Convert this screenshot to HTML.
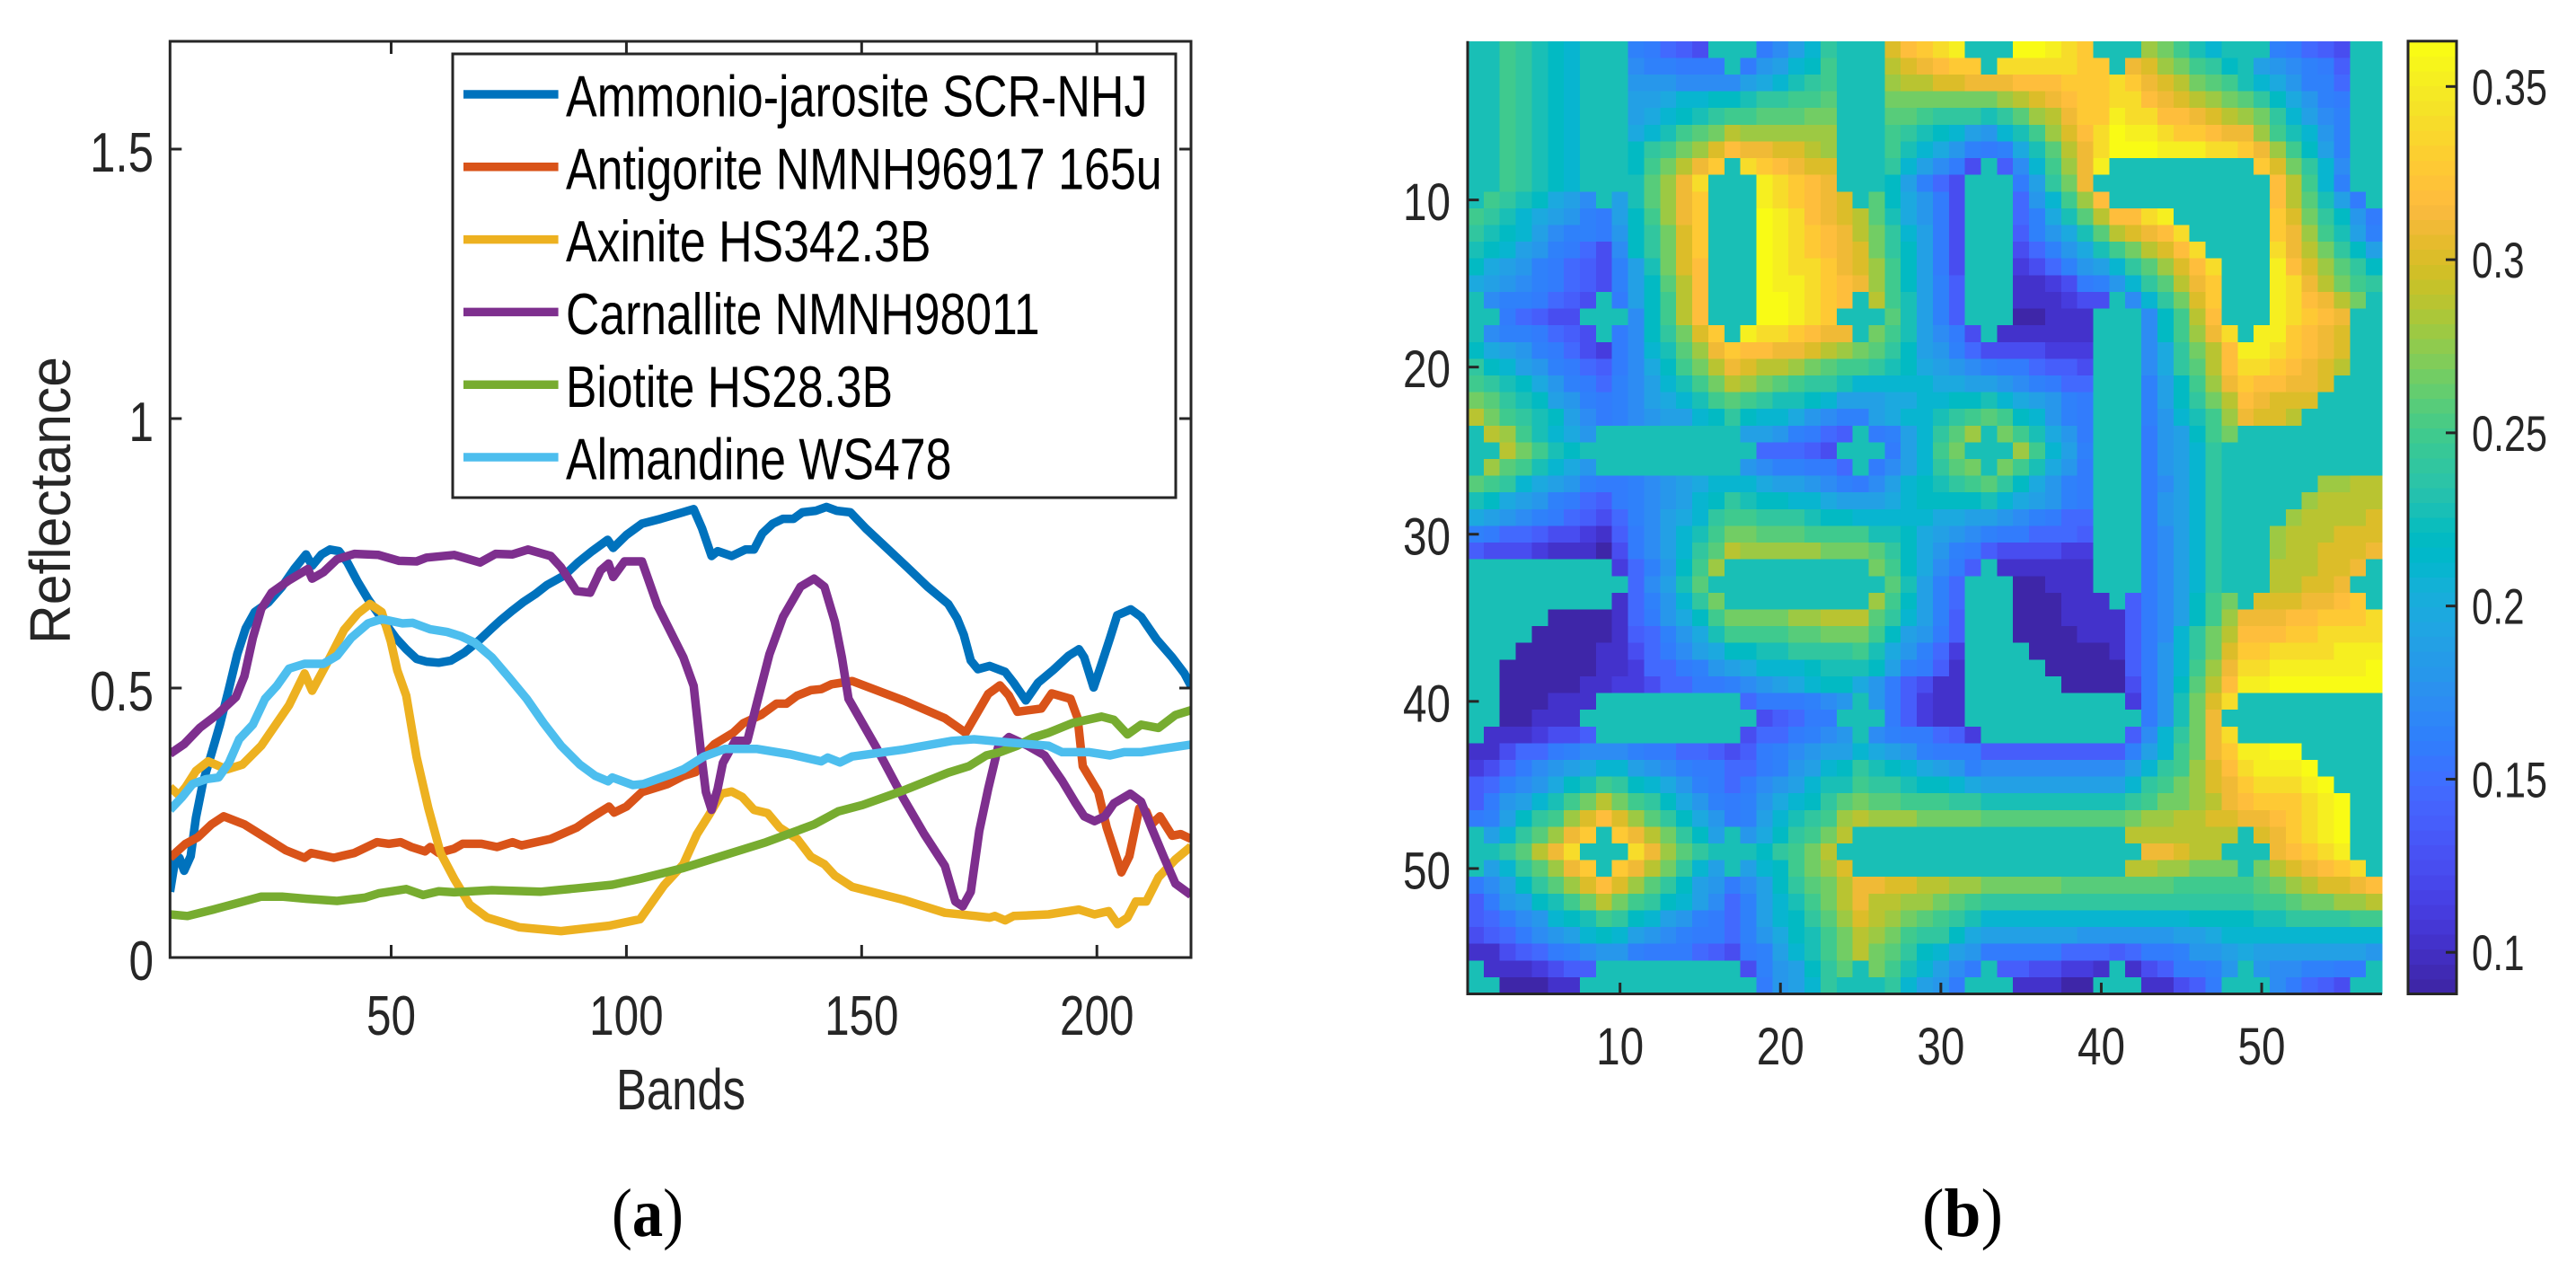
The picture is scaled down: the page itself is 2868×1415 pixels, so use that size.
<!DOCTYPE html>
<html lang="en">
<head>
<meta charset="utf-8">
<title>Reflectance spectra and abundance map</title>
<style>
html,body{margin:0;padding:0;background:#fff;width:2868px;height:1415px;overflow:hidden}
svg{display:block;font-family:"Liberation Sans",sans-serif}
</style>
</head>
<body>
<svg id="figure" xmlns="http://www.w3.org/2000/svg" width="2868" height="1415" viewBox="0 0 2868 1415">
<rect width="2868" height="1415" fill="#fff"/>
<defs><clipPath id="plotClip"><rect x="189.3" y="46" width="1136.7" height="1020"/></clipPath></defs>
<g id="panelA"></g>
<g id="panelB"></g>
<text x="681" y="1376" font-family="'Liberation Serif',serif" font-size="76" fill="#000" textLength="80" lengthAdjust="spacingAndGlyphs">(<tspan font-weight="bold">a</tspan>)</text>
<text x="2140" y="1376" font-family="'Liberation Serif',serif" font-size="76" fill="#000" textLength="90" lengthAdjust="spacingAndGlyphs">(<tspan font-weight="bold">b</tspan>)</text>
</svg>
<script>
const bandTicks = [50, 100, 150, 200];
const reflectanceTicks = [0, 0.5, 1, 1.5];
const reflectanceTickLabels = ["0", "0.5", "1", "1.5"];
const heatmapTicks = [10, 20, 30, 40, 50];
const colorbarTicks = [0.1, 0.15, 0.2, 0.25, 0.3, 0.35];
const colorbarTickLabels = ["0.1", "0.15", "0.2", "0.25", "0.3", "0.35"];
const seriesNames = ["Ammonio-jarosite SCR-NHJ", "Antigorite NMNH96917 165u", "Axinite HS342.3B", "Carnallite NMNH98011", "Biotite HS28.3B", "Almandine WS478"];

const ammonioBands = [3,4.1,5,6,7.4,8.5,10,11.8,13.6,15.5,17.3,19.1,21,23.9,26.8,29.4,31.9,33.2,35.2,37,38.9,40.7,42.9,45.1,48,51,53.2,55.4,57.5,60.1,62.7,65.6,68.5,71.4,73.3,75.8,78,80.6,83.1,86.8,89.7,92.7,96,97.2,100,103.3,107.3,114.3,116.1,118.1,119.4,122.4,125.3,127.1,128.9,131.1,133.3,135.5,137.4,140.3,142.5,144.7,147.6,150.9,155.3,159.7,164,168.4,170.3,171.7,173.2,174.7,177.2,180.5,182.3,184.9,187.5,190.8,194,196.2,197.3,199.3,201,202.8,204.3,207.2,209.4,212.7,216,218.6,220];
const ammonioValues = [0.122,0.182,0.185,0.161,0.188,0.259,0.325,0.378,0.432,0.498,0.563,0.611,0.641,0.659,0.688,0.721,0.748,0.727,0.748,0.757,0.754,0.733,0.697,0.665,0.629,0.593,0.572,0.554,0.549,0.547,0.551,0.566,0.587,0.611,0.626,0.644,0.659,0.674,0.691,0.709,0.733,0.754,0.775,0.760,0.784,0.805,0.814,0.832,0.796,0.745,0.754,0.745,0.757,0.757,0.787,0.805,0.814,0.814,0.826,0.829,0.836,0.829,0.826,0.796,0.760,0.724,0.688,0.656,0.629,0.599,0.551,0.535,0.541,0.530,0.510,0.477,0.510,0.534,0.560,0.572,0.557,0.501,0.545,0.593,0.635,0.646,0.632,0.590,0.557,0.527,0.504];

const antigoriteBands = [3,6.3,8.9,11.8,14.4,18.8,23.2,27.6,31.6,33,37.8,42.2,47,49.5,52,54.3,57.2,58.3,60.1,63.4,65.2,69.2,72.5,75.8,77.7,83.9,89.4,91.9,94.1,96.3,97.4,100,103.3,108.8,112.1,114.7,115.8,118.7,122.7,124.9,128.6,131.9,134,136.3,139.2,141.4,143.6,145.8,148,158.9,167.7,172.1,174.3,176.9,179.4,181.3,183.1,188.2,190.4,194.4,195.9,197,200.3,202.1,205.2,206.9,209,210.5,211.6,213.4,216,217.8,220];
const antigoriteValues = [0.185,0.211,0.223,0.247,0.262,0.247,0.223,0.199,0.185,0.194,0.185,0.194,0.214,0.211,0.214,0.205,0.197,0.205,0.194,0.202,0.211,0.211,0.205,0.214,0.208,0.220,0.241,0.256,0.268,0.280,0.269,0.280,0.307,0.322,0.337,0.344,0.370,0.396,0.417,0.435,0.450,0.471,0.471,0.486,0.496,0.498,0.507,0.510,0.513,0.477,0.444,0.417,0.450,0.489,0.505,0.486,0.456,0.462,0.490,0.480,0.444,0.355,0.307,0.241,0.158,0.188,0.277,0.271,0.247,0.262,0.226,0.229,0.220];

const axiniteBands = [3,4.9,6.3,8.5,11.1,15.1,18.4,22.4,28.3,31.6,33.2,36.3,40,42.9,45.5,48,49.9,51.3,53.2,55.4,57.9,60.5,63.4,66.7,70.4,77.3,86.1,96.3,102.9,108,112.1,115,117.6,120.2,122.4,124.6,127.1,130,132.6,136.3,139.2,142.1,144.3,148,158.9,167.7,174.3,177.2,178.3,180.5,182.3,189.7,196.2,199.5,202.5,204.4,206.5,208.3,210.5,213.1,216.7,220];
const axiniteValues = [0.316,0.301,0.316,0.346,0.364,0.349,0.358,0.393,0.468,0.527,0.495,0.545,0.608,0.638,0.656,0.641,0.587,0.533,0.486,0.372,0.277,0.194,0.146,0.098,0.074,0.056,0.049,0.059,0.071,0.134,0.173,0.229,0.265,0.304,0.308,0.298,0.274,0.268,0.241,0.220,0.187,0.173,0.152,0.131,0.107,0.083,0.077,0.074,0.077,0.069,0.077,0.080,0.089,0.080,0.086,0.062,0.074,0.104,0.104,0.149,0.182,0.206];

const carnalliteBands = [3,6,9.3,12.9,17,18.8,20.6,22.4,24.6,28.3,32.3,33.2,35.6,38.5,42.2,47.3,51.7,55.4,57.5,63.4,68.9,72.2,75.8,79.1,83.9,86.1,89.4,92.3,94.5,96.2,97.2,99.6,103.3,106.6,112.1,114.3,115.8,116.9,118.1,119.4,120.5,123.1,125.7,127.8,130.4,133.3,137,139.9,142.1,144.3,145.8,147.2,153.1,158.9,163.3,167.7,169.9,171.5,173.2,175,176.9,179,181.3,185.3,188.9,192.6,195.5,197.3,199.5,201.7,203.6,207.1,209.4,211.6,214.2,216.7,220];
const carnalliteValues = [0.378,0.396,0.426,0.450,0.483,0.522,0.593,0.647,0.677,0.700,0.721,0.703,0.715,0.739,0.749,0.747,0.736,0.735,0.742,0.747,0.733,0.749,0.748,0.757,0.745,0.724,0.680,0.677,0.718,0.731,0.706,0.735,0.735,0.653,0.557,0.504,0.384,0.307,0.274,0.313,0.361,0.402,0.402,0.474,0.563,0.632,0.688,0.703,0.688,0.623,0.557,0.480,0.390,0.295,0.229,0.170,0.104,0.095,0.122,0.235,0.313,0.390,0.409,0.393,0.375,0.328,0.286,0.262,0.253,0.262,0.286,0.304,0.289,0.241,0.187,0.137,0.116];

const biotiteBands = [3,6.7,12.2,17.3,22.4,26.8,32,38.5,44.4,47.3,53.2,56.8,60.1,63.4,71.4,81.7,89,97,102.9,112.1,123.1,129.7,139.9,145,150.2,158.9,168.4,172.8,176.5,179.4,183.1,186.4,189.7,194.8,201,203.6,206.5,209.4,213.1,216.7,220];
const biotiteValues = [0.080,0.077,0.089,0.101,0.113,0.113,0.109,0.105,0.111,0.119,0.127,0.116,0.123,0.121,0.125,0.122,0.128,0.135,0.146,0.166,0.196,0.214,0.247,0.271,0.283,0.310,0.343,0.355,0.375,0.381,0.393,0.408,0.417,0.435,0.447,0.441,0.414,0.432,0.426,0.450,0.459];

const almandineBands = [3,5.6,7.8,10.7,13.3,15.5,17.7,20.6,23.2,25.7,28.3,31.6,35.6,38.5,41.5,45.1,48,52.4,54.6,58.3,61.9,64.9,67.8,71.4,75.1,78.8,82.4,86.1,90.1,93.4,96.1,97,101.4,103.6,109.5,112.1,116.5,120.9,127.8,134.8,141.4,142.8,145.4,148,158.9,169.2,173.9,181.3,189.7,192.6,198.4,202.8,205.8,209.4,213.8,220];
const almandineValues = [0.274,0.298,0.322,0.331,0.334,0.361,0.405,0.432,0.480,0.504,0.536,0.545,0.545,0.560,0.593,0.620,0.628,0.620,0.621,0.609,0.604,0.596,0.584,0.557,0.519,0.480,0.435,0.393,0.358,0.337,0.327,0.334,0.320,0.322,0.340,0.349,0.373,0.387,0.387,0.377,0.364,0.371,0.362,0.373,0.386,0.402,0.405,0.399,0.393,0.381,0.381,0.375,0.381,0.381,0.387,0.395];

/* abundance map, one row per line, values in hundredths */
const abundanceRows = [
[23,23,25,24,23,22,21,23,23,23,16,15,14,13,12,23,23,23,15,17,19,21,24,23,23,23,30,32,33,34,35,23,23,23,36,36,35,34,33,23,23,23,28,27,25,23,21,23,23,23,16,15,14,13,12,23,23],
[23,23,25,24,23,22,21,23,23,23,17,16,16,15,15,15,23,15,18,19,21,22,25,23,23,23,29,30,31,32,33,33,23,34,34,34,34,34,33,33,23,31,30,28,27,25,24,22,23,19,18,17,16,15,13,23,23],
[23,23,25,24,23,22,21,23,23,23,18,18,18,17,17,17,17,19,20,21,23,24,25,23,23,23,28,29,29,30,30,31,31,31,32,32,32,33,33,33,34,33,31,30,29,27,26,25,23,21,20,18,16,16,14,23,23],
[23,23,25,24,23,22,21,23,23,23,19,19,20,21,21,22,22,23,24,24,25,25,26,23,23,23,27,27,27,27,27,27,27,28,29,30,31,32,33,33,34,34,32,31,30,29,28,27,26,24,22,20,18,16,15,23,23],
[23,23,25,24,23,22,21,23,23,23,19,20,21,22,23,24,25,25,26,26,26,27,27,23,23,23,26,26,25,24,24,24,23,24,26,28,29,31,33,33,35,34,34,32,32,31,30,29,28,27,24,21,19,17,16,23,23],
[23,23,25,24,23,22,21,23,23,23,20,21,23,25,26,27,29,28,28,28,28,28,28,23,23,23,25,24,23,22,21,19,18,21,23,25,28,30,32,34,36,35,35,34,33,33,32,31,31,28,25,23,21,18,16,23,23],
[23,23,25,24,23,22,21,23,23,23,22,24,25,27,28,30,32,31,31,30,30,29,28,23,23,23,25,23,21,20,18,16,15,16,20,23,26,29,31,34,36,36,36,35,35,35,34,34,33,31,28,25,22,19,16,23,23],
[23,23,25,24,23,22,21,23,23,23,22,25,27,29,31,33,23,34,33,32,31,30,30,23,23,23,24,21,19,17,15,12,23,13,17,21,25,28,31,35,23,23,23,23,23,23,23,23,23,33,30,27,24,21,17,23,23],
[23,23,25,24,23,22,21,23,23,23,23,26,28,31,34,23,23,23,35,34,33,32,31,23,23,23,22,19,16,14,12,23,23,23,15,19,24,27,31,23,23,23,23,23,23,23,23,23,23,23,32,29,25,21,16,23,23],
[23,25,24,23,22,20,19,17,23,19,23,26,28,31,33,23,23,23,35,34,33,32,31,30,23,26,22,20,18,15,12,23,23,23,14,18,21,25,28,32,23,23,23,23,23,23,23,23,23,23,32,29,26,23,19,15,23],
[25,24,23,21,20,19,18,16,15,19,22,25,28,31,33,23,23,23,36,35,34,32,31,30,29,26,23,20,18,15,12,23,23,23,14,16,20,23,26,29,32,32,34,35,23,23,23,23,23,23,33,30,27,24,22,18,15],
[24,23,22,21,19,17,16,16,15,18,22,24,27,30,33,23,23,23,36,35,34,33,32,31,29,27,24,21,19,15,12,23,23,23,13,16,18,20,23,26,29,30,31,32,34,23,23,23,23,23,33,31,28,25,23,19,16],
[23,22,21,19,18,16,15,14,12,17,22,24,27,30,33,23,23,23,36,35,34,33,32,31,30,27,24,22,19,15,12,23,23,23,12,14,16,18,20,23,25,27,29,30,32,34,23,23,23,23,34,31,29,27,24,22,19],
[22,20,19,18,16,15,14,13,12,16,19,23,27,30,32,23,23,23,36,35,34,34,33,31,30,28,25,22,19,15,12,23,23,23,11,12,14,16,18,19,21,24,26,28,30,32,34,23,23,23,35,32,30,28,26,24,22],
[20,19,18,17,16,15,14,13,12,16,19,22,26,29,32,23,23,23,36,35,35,34,33,32,31,28,25,22,19,16,13,23,23,23,10,10,11,12,15,16,18,21,24,26,29,31,33,23,23,23,35,34,31,29,27,25,24],
[23,17,16,16,15,14,13,12,23,15,19,22,25,29,32,23,23,23,36,36,35,34,33,32,23,29,25,23,19,16,13,23,23,23,10,10,10,11,12,12,23,17,21,24,27,30,33,23,23,23,35,34,32,31,29,27,23],
[23,23,15,14,13,12,12,23,23,23,17,22,25,29,32,23,23,23,36,36,35,34,33,23,23,23,26,23,19,16,13,23,23,23,9,9,10,10,10,23,23,23,17,22,25,29,32,23,23,23,35,34,33,32,31,23,23],
[23,17,16,16,15,14,13,12,23,15,17,22,24,27,30,33,23,35,34,34,33,32,31,31,23,27,25,23,19,17,15,12,23,10,10,10,10,10,10,23,23,23,17,22,25,28,31,34,23,35,35,33,32,31,30,23,23],
[22,20,19,18,16,15,14,12,11,15,17,21,23,26,28,31,33,32,32,31,31,30,29,28,27,26,24,22,19,18,16,14,12,12,12,12,11,11,11,23,23,23,17,20,24,27,29,32,35,35,34,33,32,31,30,23,23],
[24,22,21,19,18,16,15,14,13,15,17,20,22,25,27,29,31,30,29,29,28,27,26,25,25,24,23,22,20,19,18,17,16,15,15,14,13,13,12,23,23,23,17,20,24,26,29,32,34,34,33,32,31,30,29,23,23],
[25,24,23,22,20,18,16,15,14,16,17,19,21,23,25,27,29,28,27,26,25,24,24,23,21,21,21,21,21,20,20,19,19,18,17,16,15,14,14,23,23,23,16,19,22,25,28,31,33,32,32,31,31,30,23,23,23],
[27,26,24,23,22,19,18,16,15,16,17,19,20,21,23,25,26,25,24,23,23,22,21,19,19,19,20,20,21,21,22,22,23,21,20,19,18,16,15,23,23,23,16,19,22,24,27,29,32,31,30,30,30,23,23,23,23],
[29,27,25,24,23,22,19,17,15,16,17,18,19,19,21,22,24,22,21,21,20,18,17,16,16,19,20,21,21,23,24,25,26,25,22,21,18,16,15,23,23,23,16,18,21,23,25,28,31,30,30,29,23,23,23,23,23],
[23,29,28,25,23,21,20,18,23,23,23,23,23,23,23,23,23,19,19,18,16,15,14,13,23,15,16,19,21,24,26,28,23,27,25,23,20,18,15,23,23,23,15,18,19,22,25,27,23,23,23,23,23,23,23,23,23],
[23,23,29,27,25,23,22,23,23,23,23,23,23,23,23,23,23,23,14,14,14,13,12,23,23,23,15,19,21,25,27,23,23,23,28,25,21,19,16,23,23,23,15,18,19,21,24,23,23,23,23,23,23,23,23,23,23],
[23,28,26,25,23,21,20,18,23,23,23,23,23,23,23,23,23,18,17,16,16,15,15,14,23,15,17,19,21,24,26,27,23,27,25,23,20,18,15,23,23,23,15,18,19,21,24,23,23,23,23,23,23,23,23,23,23],
[26,25,24,21,20,19,18,16,15,15,16,17,18,19,20,21,21,21,20,19,19,18,17,16,15,17,19,21,22,23,24,25,26,24,22,20,18,16,15,23,23,23,15,17,19,21,24,23,23,23,23,23,23,28,28,29,29],
[23,22,20,19,18,16,15,14,13,15,16,17,18,19,21,22,24,23,22,22,21,21,20,19,19,19,20,21,22,22,22,22,23,21,20,19,18,16,15,23,23,23,15,18,19,21,24,23,23,23,23,23,28,29,29,29,29],
[20,19,18,17,16,15,14,13,12,14,16,17,19,20,21,24,25,25,24,24,24,23,22,22,21,21,21,21,21,20,20,19,19,18,17,16,15,14,14,23,23,23,15,18,19,21,24,23,23,23,23,28,29,29,29,29,30],
[16,15,14,14,13,12,12,11,10,13,15,17,19,21,23,25,27,27,26,26,26,25,25,25,25,23,23,22,20,19,18,17,16,15,15,14,14,14,13,23,23,23,15,17,19,21,24,23,23,23,28,29,29,29,30,30,30],
[13,12,12,12,11,10,10,10,9,12,15,17,19,21,24,26,29,28,28,28,28,28,27,27,27,26,24,22,20,18,16,15,13,12,12,12,12,11,11,23,23,23,15,17,19,21,24,23,23,23,28,29,29,30,30,30,31],
[23,23,23,23,23,23,23,23,23,11,14,16,18,22,25,28,23,23,23,23,23,23,23,23,23,27,25,22,20,17,15,13,23,10,10,10,10,10,10,23,23,23,15,17,19,21,24,23,23,23,29,29,29,30,30,31,23],
[23,23,23,23,23,23,23,23,23,23,14,17,19,23,26,23,23,23,23,23,23,23,23,23,23,23,26,23,19,16,14,23,23,23,9,9,10,10,10,23,23,23,15,17,19,21,24,23,23,23,29,29,30,30,31,23,23],
[23,23,23,23,23,23,23,23,23,10,14,16,18,21,24,27,23,23,23,23,23,23,23,23,23,28,25,22,19,16,14,23,23,23,9,9,9,10,10,10,23,13,15,17,19,22,25,27,23,30,30,30,31,31,32,33,23],
[23,23,23,23,23,9,9,9,9,10,14,15,18,20,22,25,27,27,27,27,28,28,29,29,29,26,24,21,19,16,13,23,23,23,9,9,9,10,10,10,10,13,15,17,19,22,25,28,31,31,31,32,32,33,33,33,34],
[23,23,23,23,9,9,9,9,9,10,13,14,16,18,20,23,25,25,25,25,26,26,27,27,27,25,22,19,18,15,13,23,23,23,9,9,9,9,10,10,10,13,15,17,21,24,27,29,32,32,32,33,33,34,34,34,34],
[23,23,23,9,9,9,9,9,10,10,12,14,15,17,19,20,22,22,23,23,24,24,24,24,25,23,20,18,16,14,11,23,23,23,23,9,9,9,9,9,10,13,15,18,21,24,27,30,33,33,34,34,34,34,35,35,35],
[23,23,9,9,9,9,9,9,10,10,11,14,14,15,16,18,19,20,21,21,21,22,23,23,23,22,19,16,15,13,10,23,23,23,23,23,9,9,9,9,9,13,15,18,21,25,28,31,34,34,35,35,35,35,35,35,36],
[23,23,9,9,9,9,9,10,10,11,11,12,14,14,15,15,16,17,18,19,20,21,22,22,20,18,15,13,12,10,10,23,23,23,23,23,23,9,9,9,9,12,15,18,22,26,29,32,35,35,36,36,36,36,36,36,36],
[23,23,9,9,9,10,10,10,23,23,23,23,23,23,23,23,23,14,15,15,15,16,17,18,23,18,15,13,11,10,10,23,23,23,23,23,23,23,23,23,23,11,15,18,23,27,30,34,23,23,23,23,23,23,23,23,23],
[23,23,9,9,10,10,10,23,23,23,23,23,23,23,23,23,23,23,12,13,14,15,15,23,23,23,15,13,11,10,10,23,23,23,23,23,23,23,23,23,23,23,15,18,23,27,31,23,23,23,23,23,23,23,23,23,23],
[23,10,10,10,11,12,12,13,23,23,23,23,23,23,23,23,23,12,14,14,15,16,17,18,23,17,16,15,15,14,13,11,23,23,23,23,23,23,23,23,23,13,17,21,24,27,31,34,23,23,23,23,23,23,23,23,23],
[10,10,12,14,14,15,16,17,17,17,16,15,15,14,14,13,12,13,15,16,17,18,19,19,21,20,19,18,16,15,15,15,13,13,13,13,13,13,13,13,13,16,19,21,25,27,31,33,35,35,36,36,23,23,23,23,23],
[11,12,14,15,17,18,19,20,21,21,19,18,17,16,15,15,14,14,15,16,18,19,21,22,24,23,22,21,20,19,18,16,17,17,17,17,17,17,17,17,17,19,21,24,25,28,30,32,34,35,35,35,36,23,23,23,23],
[13,14,16,17,18,20,22,23,25,24,22,21,20,18,16,15,14,15,17,18,19,21,23,23,25,24,24,23,22,22,21,20,19,19,19,19,19,19,19,19,19,21,24,25,27,28,30,31,33,34,34,34,35,36,23,23,23],
[13,15,18,19,21,23,25,27,29,27,25,24,22,20,18,16,15,16,18,20,21,22,24,26,27,26,26,25,25,25,24,24,23,23,23,23,23,23,23,23,23,24,25,27,27,28,29,31,32,33,33,33,34,35,36,23,23],
[15,16,19,22,24,25,28,30,32,30,28,26,24,22,20,18,15,16,19,21,23,24,25,28,29,28,28,28,27,27,27,27,26,26,26,26,26,26,26,26,26,27,28,28,29,29,30,30,31,31,32,33,34,35,36,23,23],
[23,19,21,24,26,28,31,33,23,33,31,29,27,24,22,19,23,18,20,22,24,25,27,29,23,23,23,23,23,23,23,23,23,23,23,23,23,23,23,23,23,29,29,29,29,29,29,29,23,30,31,33,34,35,36,23,23],
[23,23,24,26,29,31,34,23,23,23,34,31,28,26,24,23,23,23,22,24,25,27,29,23,23,23,23,23,23,23,23,23,23,23,23,23,23,23,23,23,23,23,31,31,30,29,29,23,23,23,31,32,33,34,35,23,23],
[23,19,21,24,26,28,31,33,23,33,31,29,27,24,21,19,23,19,21,22,25,27,28,30,23,23,23,23,23,23,23,23,23,23,23,23,23,23,23,23,23,29,29,28,28,27,27,27,23,27,29,30,31,32,33,34,23],
[15,17,19,22,24,26,28,30,32,30,28,26,24,22,19,18,15,17,19,22,24,26,27,29,31,31,30,30,29,29,28,28,27,27,27,27,27,26,26,26,26,26,26,26,25,25,25,25,25,26,27,28,29,30,30,31,32],
[13,15,18,19,22,23,25,27,29,27,25,24,22,21,19,17,14,16,19,21,23,25,27,29,31,29,29,28,28,27,26,25,24,24,24,24,24,24,24,24,24,24,24,24,24,24,24,24,24,25,25,26,27,27,28,28,29],
[13,14,15,17,18,21,22,23,25,24,22,21,19,18,16,15,14,16,19,21,22,24,26,28,30,29,28,27,26,25,24,23,21,21,21,21,21,21,21,21,21,21,21,21,21,22,22,22,22,23,23,24,24,24,24,25,25],
[12,13,14,15,17,18,19,21,22,21,19,18,17,16,15,15,14,16,18,20,22,23,25,27,29,28,27,25,24,24,22,20,19,19,19,19,19,19,18,18,18,18,18,18,19,19,20,21,21,21,21,21,21,21,21,21,21],
[10,10,12,13,14,15,16,17,18,18,16,15,15,15,14,13,12,15,16,19,21,23,25,27,29,27,26,24,22,21,19,18,15,15,15,15,15,14,14,14,13,14,15,15,16,18,18,19,20,19,19,19,19,19,19,19,18],
[23,10,10,10,11,12,13,13,23,23,23,23,23,23,23,23,23,12,16,18,19,22,24,26,23,27,25,23,21,19,17,15,23,13,13,12,12,11,11,10,23,10,12,13,15,15,16,18,23,18,17,17,16,16,15,15,23],
[23,23,9,9,9,10,10,23,23,23,23,23,23,23,23,23,23,23,15,18,19,21,24,23,23,23,24,21,19,18,15,23,23,23,10,10,10,9,9,23,23,23,10,10,12,13,15,23,23,23,17,15,14,13,12,23,23]
];

/* parula colormap levels */
const parula = [[.2422,.1504,.6603],[.2504,.165,.7076],[.2578,.1818,.7511],[.2647,.1978,.7952],[.2706,.2147,.8364],[.2751,.2342,.871],[.2783,.2559,.8991],[.2803,.2782,.9221],[.2813,.3006,.9414],[.281,.3228,.9579],[.2795,.3447,.9717],[.276,.3667,.9829],[.2699,.3892,.9906],[.2602,.4123,.9952],[.244,.4358,.9988],[.2206,.4603,.9973],[.1963,.4847,.9892],[.1834,.5074,.9798],[.1786,.5289,.9682],[.1764,.5499,.952],[.1687,.5703,.9359],[.154,.5902,.9218],[.146,.6091,.9079],[.138,.6276,.8973],[.1248,.6459,.8883],[.1113,.6635,.8763],[.0952,.6798,.8598],[.0689,.6948,.8394],[.0297,.7082,.8163],[.0036,.7203,.7917],[.0067,.7312,.766],[.0433,.7411,.7394],[.0964,.75,.712],[.1408,.7584,.6842],[.1717,.767,.6554],[.1938,.7758,.6251],[.2161,.7843,.5923],[.247,.7918,.5567],[.2906,.7973,.5188],[.3406,.8008,.4789],[.3909,.8029,.4354],[.4456,.8024,.3909],[.5044,.7993,.348],[.5616,.7942,.3045],[.6174,.7876,.2612],[.672,.7793,.2227],[.7242,.7698,.191],[.7738,.7598,.1646],[.8203,.7498,.1535],[.8634,.7406,.1596],[.9035,.733,.1774],[.9393,.7288,.21],[.9728,.7298,.2394],[.9956,.7434,.2371],[.997,.7659,.2199],[.9952,.7893,.2028],[.9892,.8136,.1885],[.9786,.8386,.1766],[.9676,.8639,.1643],[.961,.889,.1537],[.9597,.9135,.1423],[.9628,.9373,.1265],[.9691,.9606,.1064],[.9769,.9839,.0805]];
/* parula level reached by each abundance value from 9 to 36 */
const colorLevels = [0,3,5,8,11,13,16,17,19,21,23,25,28,30,32,35,37,39,41,44,46,49,51,53,55,58,61,63];

const NS = "http://www.w3.org/2000/svg";
const INK = "#262626";
const panelA = document.getElementById("panelA");
const panelB = document.getElementById("panelB");

function make(parent, tag, attrs) {
  const el = document.createElementNS(NS, tag);
  for (const k in attrs) el.setAttribute(k, attrs[k]);
  parent.appendChild(el);
  return el;
}
function widthOf(str, digit, dot) {
  let w = 0;
  for (const c of str) w += (c === "." ? dot : digit);
  return w;
}

/* ---------- panel (a) scales ---------- */
const aLeft = 189.3, aRight = 1326, aTop = 46, aBottom = 1066;
const xBandMin = 3, xBandMax = 220, yRefMin = 0, yRefMax = 1.7;
function xBand(b) { return aLeft + (b - xBandMin) / (xBandMax - xBandMin) * (aRight - aLeft); }
function yRef(v) { return aBottom - (v - yRefMin) / (yRefMax - yRefMin) * (aBottom - aTop); }

const seriesColors = ["#0072bd", "#d95319", "#edb120", "#7e2f8e", "#77ac30", "#4dbeee"];
const seriesData = [
  [ammonioBands, ammonioValues],
  [antigoriteBands, antigoriteValues],
  [axiniteBands, axiniteValues],
  [carnalliteBands, carnalliteValues],
  [biotiteBands, biotiteValues],
  [almandineBands, almandineValues]
];

const lineGroup = make(panelA, "g", { "clip-path": "url(#plotClip)" });


seriesData.forEach(function (s, i) {
  const pts = s[0].map(function (b, j) { return xBand(b).toFixed(1) + "," + yRef(s[1][j]).toFixed(1); }).join(" ");
  const line = make(lineGroup, "polyline", { points: pts, fill: "none", stroke: seriesColors[i], "stroke-width": 9.5, "stroke-linejoin": "round" });
  
  
});

/* panel (a) frame */
const aFrame = make(panelA, "rect", { x: aLeft, y: aTop, width: aRight - aLeft, height: aBottom - aTop, fill: "none", stroke: INK, "stroke-width": 3 });



bandTicks.forEach(function (t) {
  const x = xBand(t);
  const tb = make(panelA, "line", { x1: x, x2: x, y1: aBottom, y2: aBottom - 14, stroke: INK, "stroke-width": 3 });
  
  
  const tt = make(panelA, "line", { x1: x, x2: x, y1: aTop, y2: aTop + 14, stroke: INK, "stroke-width": 3 });
  
  
  const s = String(t);
  const lab = make(panelA, "text", { x: x, y: 1152, "text-anchor": "middle", "font-size": 62, fill: INK, textLength: widthOf(s, 27.5, 16), lengthAdjust: "spacingAndGlyphs" });
  lab.textContent = s;
  
  
});
reflectanceTicks.forEach(function (t, i) {
  const y = yRef(t);
  const tl = make(panelA, "line", { x1: aLeft, x2: aLeft + 13, y1: y, y2: y, stroke: INK, "stroke-width": 3 });
  
  
  const tr = make(panelA, "line", { x1: aRight, x2: aRight - 13, y1: y, y2: y, stroke: INK, "stroke-width": 3 });
  
  
  const s = reflectanceTickLabels[i];
  const lab = make(panelA, "text", { x: 171, y: y + 25, "text-anchor": "end", "font-size": 62, fill: INK, textLength: widthOf(s, 27.5, 16), lengthAdjust: "spacingAndGlyphs" });
  lab.textContent = s;
  
  
});

const xTitle = make(panelA, "text", { x: 686, y: 1235, "font-size": 64, fill: INK, textLength: 144, lengthAdjust: "spacingAndGlyphs" });
xTitle.textContent = "Bands";


const yTitle = make(panelA, "text", { x: 0, y: 0, transform: "translate(78,717) rotate(-90)", "font-size": 64, fill: INK, textLength: 320, lengthAdjust: "spacingAndGlyphs" });
yTitle.textContent = "Reflectance";



/* legend */
const legendBox = make(panelA, "rect", { x: 504, y: 60, width: 805, height: 494, fill: "#fff", stroke: INK, "stroke-width": 3 });


const legendWidths = [647.5, 663.6, 406.5, 527.6, 364, 429.5];
seriesNames.forEach(function (name, i) {
  const ly = 105 + i * 80.8;
  const sw = make(panelA, "line", { x1: 516, x2: 621.6, y1: ly, y2: ly, stroke: seriesColors[i], "stroke-width": 9.5 });
  
  
  const tx = make(panelA, "text", { x: 630, y: 129.6 + i * 80.8, "font-size": 65, fill: "#000", textLength: legendWidths[i], lengthAdjust: "spacingAndGlyphs" });
  tx.textContent = name;
  
  
});

/* ---------- panel (b) scales ---------- */
const bLeft = 1634, bRight = 2652, bTop = 45.8, bBottom = 1106.5;
const gridMin = 0.5, gridMax = 57.5;
function xCell(c) { return bLeft + (c - gridMin) / (gridMax - gridMin) * (bRight - bLeft); }
function yCell(r) { return bTop + (r - gridMin) / (gridMax - gridMin) * (bBottom - bTop); }
function rgbOf(c) {
  return "rgb(" + Math.round(c[0] * 255) + "," + Math.round(c[1] * 255) + "," + Math.round(c[2] * 255) + ")";
}
function colorOf(v) {
  const p = Math.max(0, Math.min(colorLevels.length - 1, v - 9));
  const lo = Math.floor(p);
  const hi = Math.min(colorLevels.length - 1, lo + 1);
  const k = Math.round(colorLevels[lo] + (colorLevels[hi] - colorLevels[lo]) * (p - lo));
  return rgbOf(parula[k]);
}

const cellGroup = make(panelB, "g", { "shape-rendering": "crispEdges" });


abundanceRows.forEach(function (row, r) {
  row.forEach(function (v, c) {
    const x0 = xCell(c + 0.5), x1 = xCell(c + 1.5), y0 = yCell(r + 0.5), y1 = yCell(r + 1.5);
    const cell = make(cellGroup, "rect", { x: x0, y: y0, width: x1 - x0 + 0.4, height: y1 - y0 + 0.4, fill: colorOf(v) });
    
    
  });
});

const bAxisLeft = make(panelB, "line", { x1: bLeft, x2: bLeft, y1: bTop, y2: bBottom + 1.5, stroke: INK, "stroke-width": 3 });


const bAxisBottom = make(panelB, "line", { x1: bLeft, x2: bRight, y1: bBottom, y2: bBottom, stroke: INK, "stroke-width": 3 });



heatmapTicks.forEach(function (t) {
  const s = String(t);
  const x = xCell(t), y = yCell(t);
  const tx = make(panelB, "line", { x1: x, x2: x, y1: bBottom, y2: bBottom - 12.5, stroke: INK, "stroke-width": 3 });
  
  
  const ty = make(panelB, "line", { x1: bLeft, x2: bLeft + 12.5, y1: y, y2: y, stroke: INK, "stroke-width": 3 });
  
  
  const lx = make(panelB, "text", { x: x, y: 1185, "text-anchor": "middle", "font-size": 58, fill: INK, textLength: 53, lengthAdjust: "spacingAndGlyphs" });
  lx.textContent = s;
  
  
  const ly = make(panelB, "text", { x: 1615, y: y + 22.5, "text-anchor": "end", "font-size": 58, fill: INK, textLength: 53, lengthAdjust: "spacingAndGlyphs" });
  ly.textContent = s;
  
  
});

/* colorbar */
const cbLeft = 2681, cbRight = 2735, cbTop = 45.8, cbBottom = 1106.5;
const cbValMin = 0.088, cbValMax = 0.3631;
function yColor(v) { return cbBottom - (v - cbValMin) / (cbValMax - cbValMin) * (cbBottom - cbTop); }
const cbGroup = make(panelB, "g", { "shape-rendering": "crispEdges" });


parula.forEach(function (c, k) {
  const h = (cbBottom - cbTop) / parula.length;
  const sw = make(cbGroup, "rect", { x: cbLeft, y: cbBottom - (k + 1) * h, width: cbRight - cbLeft, height: h + 0.4, fill: rgbOf(c) });
  
  
});
const cbFrame = make(panelB, "rect", { x: cbLeft, y: cbTop, width: cbRight - cbLeft, height: cbBottom - cbTop, fill: "none", stroke: INK, "stroke-width": 3 });


colorbarTicks.forEach(function (t, i) {
  const y = yColor(t);
  const tk = make(panelB, "line", { x1: cbRight, x2: cbRight - 12, y1: y, y2: y, stroke: INK, "stroke-width": 3 });
  
  
  const s = colorbarTickLabels[i];
  const lab = make(panelB, "text", { x: 2752, y: y + 20, "font-size": 56, fill: INK, textLength: s.length === 4 ? 84 : 58.5, lengthAdjust: "spacingAndGlyphs" });
  lab.textContent = s;
  
  
});
</script>
</body>
</html>
